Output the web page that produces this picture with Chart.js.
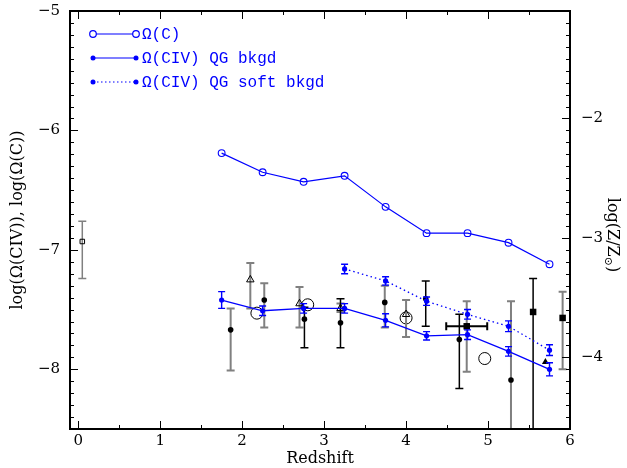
<!DOCTYPE html>
<html>
<head>
<meta charset="utf-8">
<script src="https://cdn.jsdelivr.net/npm/chart.js@4/dist/chart.umd.min.js"></script>
<style>
html,body{margin:0;padding:0;background:#fff;}
#wrap{width:627px;height:468px;}
</style>
</head>
<body>
<div id="wrap"><canvas id="c" width="627" height="468"></canvas></div>
<script>
// ---------- data ----------
const xTicks = [0, 1, 2, 3, 4, 5, 6];
const yTicks = [-8, -7, -6, -5];
const zTicks = [-4, -3, -2];

const redshift = [1.75, 2.25, 2.75, 3.25, 3.75, 4.25, 4.75, 5.25, 5.75];
const omegaC = [-6.19, -6.35, -6.43, -6.38, -6.64, -6.86, -6.86, -6.94, -7.12];
const omegaCIV = [-7.42, -7.51, -7.49, -7.49, -7.59, -7.72, -7.71, -7.85, -8.00];
const omegaCIVErr = [0.07, 0.04, 0.04, 0.04, 0.055, 0.035, 0.04, 0.04, 0.055];
const softRedshift = [3.25, 3.75, 4.25, 4.75, 5.25, 5.75];
const omegaCIVSoft = [-7.16, -7.26, -7.43, -7.54, -7.64, -7.84];
const omegaCIVSoftErr = [0.04, 0.035, 0.035, 0.04, 0.045, 0.045];

// observational points: [z, value, low, high]
const dotsGrayErr = [[1.86, -7.67, -8.01, -7.49], [2.27, -7.42, -7.65, -7.28], [3.74, -7.44, -7.65, -7.30], [5.28, -8.09, -8.70, -7.43]];
const dotsBlackErr = [[2.76, -7.58, -7.82, -7.48], [3.20, -7.61, -7.82, -7.41], [4.24, -7.41, -7.64, -7.26], [4.65, -7.75, -8.16, -7.54]];
const openTriangles = [[2.10, -7.25, -7.49, -7.11], [2.70, -7.45, -7.65, -7.31], [3.20, -7.49, -7.52, -7.45], [4.00, -7.54, -7.73, -7.42]];
const openCircles = [[2.18, -7.53], [2.80, -7.46], [4.00, -7.57], [4.96, -7.91]];
const squaresBlackErr = [[5.55, -7.52, -8.70, -7.24]];
const squaresGrayErr = [[4.74, -7.64, -8.02, -7.43], [5.91, -7.57, -8.00, -7.35]];
const squareZRange = [[4.49, 4.99]]; // horizontal bar of the z=4.74 point
const filledTriangles = [[5.70, -7.94]];
const openSquares = [[0.05, -6.93, -7.24, -6.76]];

const legendLabels = ['\u03A9(C)', '\u03A9(CIV) QG bkgd', '\u03A9(CIV) QG soft bkgd'];
const xTitle = 'Redshift';
const yTitle = 'log(\u03A9(CIV)), log(\u03A9(C))';
const zTitleParts = ['log(Z/Z', '\u2299', ')'];

// ---------- helpers ----------
const BLUE = '#0000ff';
const GRAY = '#808080';
const serif = "'DejaVu Serif', 'Liberation Serif', serif";
const minus = v => (v < 0 ? '\u2212' + Math.abs(v) : String(v));

function zip(xs, ys, errs) {
  return xs.map((x, i) => {
    const p = { x: x, y: ys[i] };
    if (errs) { p.yMin = ys[i] - errs[i]; p.yMax = ys[i] + errs[i]; }
    return p;
  });
}
function rows(arr) {
  return arr.map(r => {
    const p = { x: r[0], y: r[1] };
    if (r.length > 2) { p.yMin = r[2]; p.yMax = r[3]; }
    return p;
  });
}
const squaresGray = rows(squaresGrayErr);
squaresGray[0].xMin = squareZRange[0][0];
squaresGray[0].xMax = squareZRange[0][1];

// ---------- plugins ----------
const errorBars = {
  id: 'errorBars',
  beforeDatasetDraw(chart, args) {
    const ds = chart.data.datasets[args.index];
    if (!ds.errColor) return;
    const { ctx, chartArea: a, scales } = chart;
    const xs = scales.x, ys = scales.y;
    const cap = ds.capHalf || 3.5;
    ctx.save();
    ctx.beginPath();
    ctx.rect(a.left, a.top, a.right - a.left, a.bottom - a.top);
    ctx.clip();
    ctx.lineWidth = ds.errWidth || 1.5;
    ds.data.forEach(p => {
      const px = xs.getPixelForValue(p.x);
      const py = ys.getPixelForValue(p.y);
      if (p.yMin !== undefined) {
        const y1 = ys.getPixelForValue(p.yMin), y2 = ys.getPixelForValue(p.yMax);
        ctx.strokeStyle = ds.errColor;
        ctx.beginPath();
        ctx.moveTo(px, y1); ctx.lineTo(px, y2);
        ctx.moveTo(px - cap, y1); ctx.lineTo(px + cap, y1);
        ctx.moveTo(px - cap, y2); ctx.lineTo(px + cap, y2);
        ctx.stroke();
      }
      if (p.xMin !== undefined) {
        const x1 = xs.getPixelForValue(p.xMin), x2 = xs.getPixelForValue(p.xMax);
        ctx.strokeStyle = ds.xErrColor || ds.errColor;
        ctx.beginPath();
        ctx.moveTo(x1, py); ctx.lineTo(x2, py);
        ctx.moveTo(x1, py - cap); ctx.lineTo(x1, py + cap);
        ctx.moveTo(x2, py - cap); ctx.lineTo(x2, py + cap);
        ctx.stroke();
      }
    });
    ctx.restore();
  }
};

const frameTicks = {
  id: 'frameTicks',
  afterDatasetsDraw(chart) {
    const { ctx, chartArea: a, scales } = chart;
    const xs = scales.x, ys = scales.y, zs = scales.y2;
    const MAJ = 8, MIN = 4;
    ctx.save();
    ctx.strokeStyle = '#000';
    ctx.lineWidth = 1;
    ctx.beginPath();
    for (let k = 0; k <= 12; k++) {
      const v = k / 2;
      const px = Math.round(xs.getPixelForValue(v)) + 0.5;
      const len = (k % 2 === 0) ? MAJ : MIN;
      ctx.moveTo(px, a.bottom); ctx.lineTo(px, a.bottom - len);
      ctx.moveTo(px, a.top); ctx.lineTo(px, a.top + len);
    }
    for (let k = -85; k <= -50; k++) {
      const py = Math.round(ys.getPixelForValue(k / 10)) + 0.5;
      const len = (k % 10 === 0) ? MAJ : MIN;
      ctx.moveTo(a.left, py); ctx.lineTo(a.left + len, py);
    }
    for (let k = -46; k <= -11; k++) {
      const py = Math.round(zs.getPixelForValue(k / 10)) + 0.5;
      const len = (k % 10 === 0) ? MAJ : MIN;
      ctx.moveTo(a.right, py); ctx.lineTo(a.right - len, py);
    }
    ctx.stroke();
    ctx.lineWidth = 2;
    ctx.strokeRect(a.left, a.top, a.right - a.left, a.bottom - a.top);
    ctx.restore();
  }
};

const customText = {
  id: 'customText',
  afterDraw(chart) {
    const ctx = chart.ctx;
    // legend
    const x1 = 93, x2 = 136, tx = 142;
    const ys = [34, 58, 82];
    ctx.save();
    ctx.strokeStyle = BLUE;
    legendLabels.forEach((lab, i) => {
      const y = ys[i];
      ctx.lineWidth = 1.2;
      ctx.setLineDash(i === 2 ? [1.5, 2.5] : []);
      ctx.beginPath(); ctx.moveTo(x1, y); ctx.lineTo(x2, y); ctx.stroke();
      ctx.setLineDash([]);
      [x1, x2].forEach(px => {
        ctx.beginPath();
        if (i === 0) {
          ctx.fillStyle = '#fff';
          ctx.arc(px, y, 3.3, 0, Math.PI * 2); ctx.fill(); ctx.stroke();
        } else {
          ctx.fillStyle = BLUE;
          ctx.arc(px, y, 2.5, 0, Math.PI * 2); ctx.fill();
        }
      });
      ctx.fillStyle = BLUE;
      ctx.font = "16px 'Liberation Mono', 'DejaVu Sans Mono', monospace";
      ctx.textBaseline = 'middle';
      ctx.textAlign = 'left';
      ctx.fillText(lab, tx, y + 1);
    });
    ctx.restore();

    // right axis title with subscript
    ctx.save();
    ctx.translate(612, 235);
    ctx.rotate(Math.PI / 2);
    ctx.fillStyle = '#000';
    ctx.textBaseline = 'middle';
    ctx.textAlign = 'left';
    const big = "16px " + serif, small = "11px " + serif;
    ctx.font = big; const w1 = ctx.measureText(zTitleParts[0]).width;
    ctx.font = small; const w2 = ctx.measureText(zTitleParts[1]).width;
    ctx.font = big; const w3 = ctx.measureText(zTitleParts[2]).width;
    let x = -(w1 + w2 + w3) / 2;
    ctx.font = big; ctx.fillText(zTitleParts[0], x, 0); x += w1;
    ctx.font = small; ctx.fillText(zTitleParts[1], x, 4); x += w2;
    ctx.font = big; ctx.fillText(zTitleParts[2], x, 0);
    ctx.restore();
  }
};

function noPad(s) { s.paddingTop = 0; s.paddingBottom = 0; s.paddingLeft = 0; s.paddingRight = 0; }

// ---------- chart ----------
const noLine = { showLine: false };
new Chart(document.getElementById('c'), {
  type: 'scatter',
  data: {
    datasets: [
      { label: legendLabels[0], data: zip(redshift, omegaC), showLine: true, borderColor: BLUE, borderWidth: 1.2,
        pointStyle: 'circle', pointRadius: 3.4, pointBorderWidth: 1.1, pointBackgroundColor: 'rgba(255,255,255,0)', pointBorderColor: BLUE, order: 0 },
      { label: legendLabels[1], data: zip(redshift, omegaCIV, omegaCIVErr), showLine: true, borderColor: BLUE, borderWidth: 1.3,
        pointRadius: 2.6, pointBackgroundColor: BLUE, pointBorderColor: BLUE, pointBorderWidth: 0,
        errColor: BLUE, errWidth: 1.4, capHalf: 3.5, order: 0 },
      { label: legendLabels[2], data: zip(softRedshift, omegaCIVSoft, omegaCIVSoftErr), showLine: true, borderColor: BLUE, borderWidth: 1.3,
        borderDash: [1.5, 3], pointRadius: 2.6, pointBackgroundColor: BLUE, pointBorderColor: BLUE, pointBorderWidth: 0,
        errColor: BLUE, errWidth: 1.4, capHalf: 3.5, order: 0 },
      Object.assign({ label: 'dots gray', data: rows(dotsGrayErr), pointRadius: 2.8, pointBackgroundColor: '#000', pointBorderWidth: 0,
        errColor: GRAY, errWidth: 2, capHalf: 4, order: 2 }, noLine),
      Object.assign({ label: 'dots black', data: rows(dotsBlackErr), pointRadius: 2.8, pointBackgroundColor: '#000', pointBorderWidth: 0,
        errColor: '#000', errWidth: 1.5, capHalf: 4, order: 2 }, noLine),
      Object.assign({ label: 'open triangles', data: rows(openTriangles), pointStyle: 'triangle', pointRadius: 4.3,
        pointBackgroundColor: 'rgba(255,255,255,0)', pointBorderColor: '#000', pointBorderWidth: 1,
        errColor: GRAY, errWidth: 2, capHalf: 4, order: 2 }, noLine),
      Object.assign({ label: 'open circles', data: rows(openCircles), pointRadius: 6, pointBackgroundColor: 'rgba(255,255,255,0)',
        pointBorderColor: '#000', pointBorderWidth: 1, order: 2 }, noLine),
      Object.assign({ label: 'squares black', data: rows(squaresBlackErr), pointStyle: 'rect', pointRadius: 4.6,
        pointBackgroundColor: '#000', pointBorderWidth: 0, errColor: '#000', errWidth: 1.5, capHalf: 4, order: 2 }, noLine),
      Object.assign({ label: 'squares gray', data: squaresGray, pointStyle: 'rect', pointRadius: 4.6,
        pointBackgroundColor: '#000', pointBorderWidth: 0, errColor: GRAY, xErrColor: '#000', errWidth: 2, capHalf: 4, order: 2 }, noLine),
      Object.assign({ label: 'filled triangles', data: rows(filledTriangles), pointStyle: 'triangle', pointRadius: 4,
        pointBackgroundColor: '#000', pointBorderColor: '#000', pointBorderWidth: 0, order: 2 }, noLine),
      Object.assign({ label: 'open squares', data: rows(openSquares), pointStyle: 'rect', pointRadius: 3.2,
        pointBackgroundColor: 'rgba(255,255,255,0)', pointBorderColor: '#000', pointBorderWidth: 1,
        errColor: GRAY, errWidth: 1.5, capHalf: 4, order: 2 }, noLine)
    ]
  },
  options: {
    responsive: false,
    animation: false,
    layout: { padding: { top: 11, left: 0, right: 0, bottom: 0 } },
    plugins: { legend: { display: false }, tooltip: { enabled: false } },
    scales: {
      x: {
        type: 'linear', position: 'bottom', min: -0.1, max: 6,
        afterBuildTicks: s => { s.ticks = xTicks.map(v => ({ value: v })); },
        afterFit: s => { s.height = 39; noPad(s); },
        grid: { display: false, drawTicks: false },
        border: { display: false },
        ticks: { color: '#000', font: { family: serif, size: 15 }, padding: 3, callback: v => minus(v) },
        title: { display: true, text: xTitle, color: '#000', font: { family: serif, size: 16 }, padding: { top: 0, bottom: 0 } }
      },
      y: {
        type: 'linear', position: 'left', min: -8.5, max: -5,
        afterBuildTicks: s => { s.ticks = yTicks.map(v => ({ value: v })); },
        afterFit: s => { s.width = 70; noPad(s); },
        grid: { display: false, drawTicks: false },
        border: { display: false },
        ticks: { color: '#000', font: { family: serif, size: 15 }, padding: 10, callback: v => minus(v) },
        title: { display: true, text: yTitle, color: '#000', font: { family: serif, size: 16 }, padding: { top: 8, bottom: 0 } }
      },
      y2: {
        type: 'linear', position: 'right', min: -4.6, max: -1.1,
        afterBuildTicks: s => { s.ticks = zTicks.map(v => ({ value: v })); },
        afterFit: s => { s.width = 57; noPad(s); },
        grid: { display: false, drawTicks: false },
        border: { display: false },
        ticks: { color: '#000', font: { family: serif, size: 15 }, padding: 11, callback: v => minus(v) },
        title: { display: false }
      }
    }
  },
  plugins: [errorBars, frameTicks, customText]
});
</script>
</body>
</html>
